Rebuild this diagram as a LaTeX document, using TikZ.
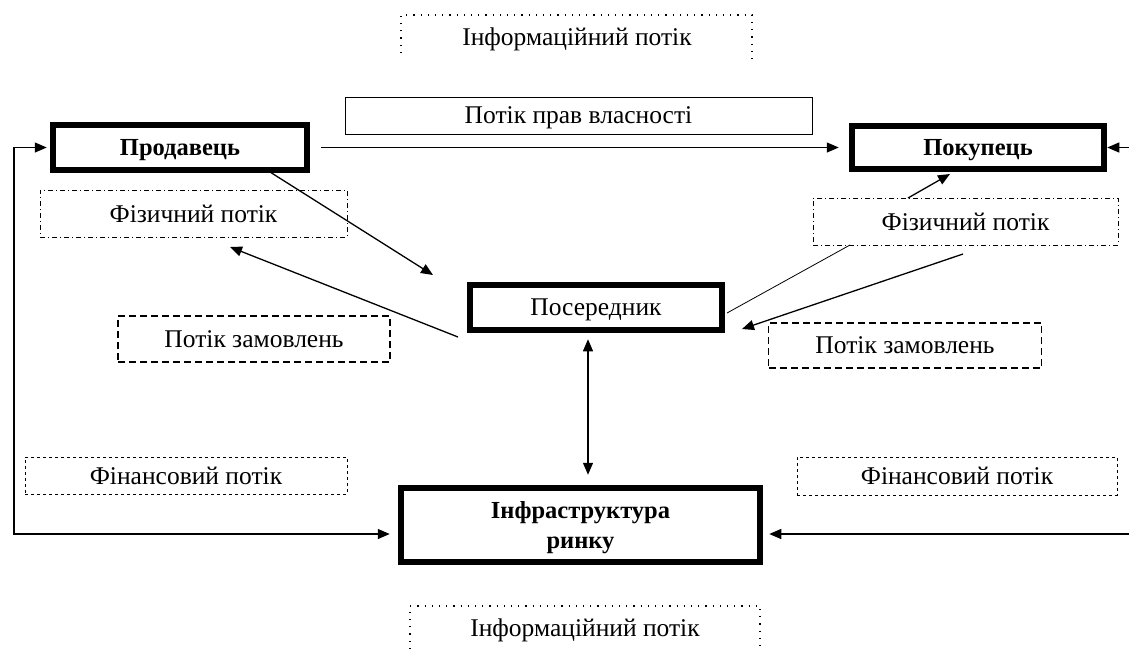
\documentclass[tikz,border=0pt]{standalone}
\usepackage{fontspec}
\setmainfont{Liberation Serif}
\usetikzlibrary{arrows.meta}
\begin{document}
\begin{tikzpicture}[x=1pt,y=-1pt,
  every node/.style={inner sep=0pt,align=center,text depth=0pt},
  lbl/.style={font=\fontsize{25.5}{30}\selectfont},
  bigbox/.style={draw,line width=6.5pt,font=\fontsize{24.5}{30}\selectfont\bfseries},
  midbox/.style={draw,line width=6.5pt,font=\fontsize{25.5}{30}\selectfont},
  thinbox/.style={draw,line width=0.9pt,lbl},
  dashdotbox/.style={draw,line width=1pt,dash pattern=on 5pt off 3pt on 1pt off 3pt,lbl},
  dashbox/.style={draw,line width=1.1pt,dash pattern=on 7pt off 4pt,lbl},
  finbox/.style={draw,line width=1pt,dash pattern=on 3pt off 3pt,lbl},
  conn/.style={line width=1.3pt,-{Triangle[length=12pt,width=10pt]}},
  dconn/.style={line width=1.3pt,{Triangle[length=12pt,width=10pt]}-{Triangle[length=12pt,width=10pt]}},
  plain/.style={line width=0.8pt}
]
\useasboundingbox (0,0) rectangle (1129,649);

% informational flow (dotted, open boxes)
\node[lbl] (info1) at (577,37) {Інформаційний потік};
\draw[line width=1.2pt,dash pattern=on 1.2pt off 6pt] (401,53) -- (401,15) -- (752,15) -- (752,60);
\node[lbl] (info2) at (585,628) {Інформаційний потік};
\draw[line width=1.2pt,dash pattern=on 1.2pt off 6pt] (410,649) -- (410,606) -- (760,606) -- (760,649);

% main boxes
\node[bigbox,minimum width=254pt,minimum height=45pt] (seller) at (180,147.5) {Продавець};
\node[bigbox,minimum width=252pt,minimum height=43pt] (buyer) at (978,147.5) {Покупець};
\node[midbox,minimum width=252pt,minimum height=45pt] (mid) at (596,307.5) {Посередник};
\node[bigbox,minimum width=359pt,minimum height=74pt] (infra) at (580.5,525) {Інфраструктура\\ринку};

% label boxes
\node[thinbox,minimum width=467pt,minimum height=37pt] (rights) at (578.5,115.5) {Потік прав власності};
\node[dashdotbox,minimum width=307pt,minimum height=47pt] (phys1) at (193.5,213.5) {Фізичний потік};
\node[dashdotbox,minimum width=305pt,minimum height=47pt] (phys2) at (965.5,221.5) {Фізичний потік};
\node[dashbox,minimum width=272pt,minimum height=46pt] (ord1) at (254,339) {Потік замовлень};
\node[dashbox,minimum width=273pt,minimum height=45pt] (ord2) at (905,345.5) {Потік замовлень};
\node[finbox,minimum width=322pt,minimum height=37pt] (fin1) at (186,475.5) {Фінансовий потік};
\node[finbox,minimum width=320pt,minimum height=38pt] (fin2) at (957,476) {Фінансовий потік};

% helper coordinates
\coordinate (lx) at (14,147.5);
\coordinate (lb) at (14,534);
\coordinate (rt) at (1129,147.5);
\coordinate (rb) at (1129,534);
\coordinate (sA) at (270,172);
\coordinate (sB) at (433,275);
\coordinate (pA) at (458,337);
\coordinate (pB) at (230,247);
\coordinate (qA) at (908,198);
\coordinate (qB) at (950,174);
\coordinate (mA) at (727,313);
\coordinate (mB) at (850,245);
\coordinate (oA) at (963,254);
\coordinate (oB) at (742,329);

% connectors
\draw[conn,shorten <=11pt,shorten >=10pt] (seller.east) -- (buyer.west);
\draw[dconn,shorten <=3pt,shorten >=8pt] (seller.west) -- (lx) -- (lb) -- (infra.west |- lb);
\draw[conn] (rt) -- (buyer.east |- rt);
\draw[conn,shorten >=6pt] (rb) -- (infra.east |- rb);
\draw[conn] (sA) -- (sB);
\draw[conn] (pA) -- (pB);
\draw[conn] (qA) -- (qB);
\draw[plain] (mA) -- (mB);
\draw[conn] (oA) -- (oB);
\draw[dconn,shorten <=6pt,shorten >=10pt] (mid.south -| 588,0) -- (infra.north -| 588,0);
\end{tikzpicture}
\end{document}
